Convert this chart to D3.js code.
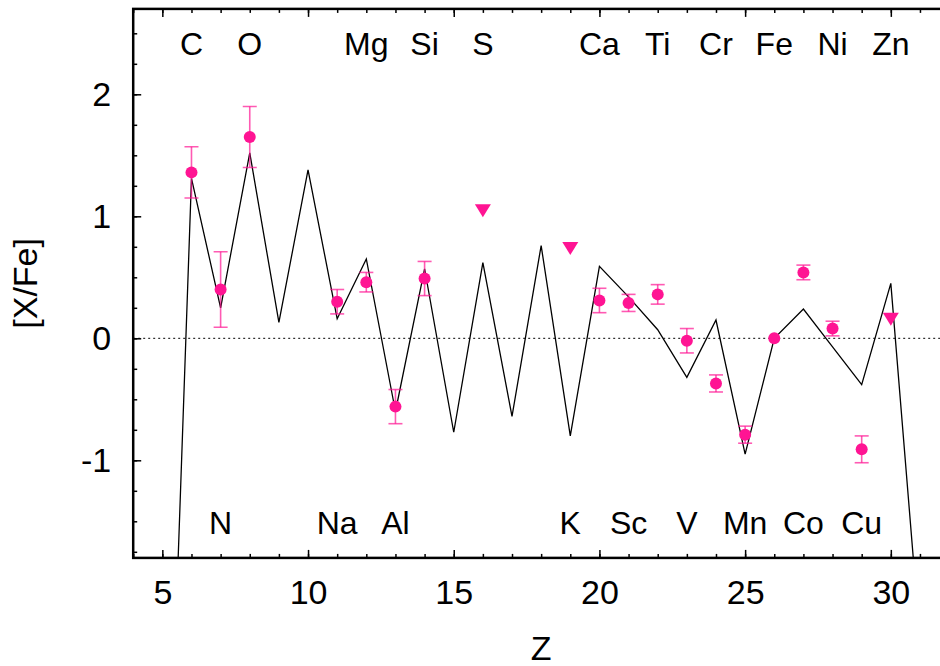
<!DOCTYPE html>
<html>
<head>
  <meta charset="utf-8">
  <script src="https://cdn.jsdelivr.net/npm/d3@7"></script>
  <style>
    body { margin: 0; background: #fff; }
    text { font-family: "Liberation Sans", Arial, sans-serif; }
  </style>
</head>
<body>
<script>
  // model line: [X/Fe] for Z = 5..31
  var modelZ = [5, 6, 7, 8, 9, 10, 11, 12, 13, 14, 15, 16, 17, 18, 19, 20, 21, 22, 23, 24, 25, 26, 27, 28, 29, 30, 31];
  var modelVal = [-5.5, 1.31, 0.25, 1.52, 0.13, 1.38, 0.16, 0.65, -0.60, 0.57, -0.77, 0.62, -0.64, 0.76, -0.80,
                  0.59, 0.34, 0.07, -0.32, 0.15, -0.95, 0.0, 0.24, -0.07, -0.38, 0.45, -2.47];

  // observed abundances with error bars
  var obsZ = [6, 7, 8, 11, 12, 13, 14, 20, 21, 22, 23, 24, 25, 26, 27, 28, 29];
  var obsVal = [1.36, 0.40, 1.65, 0.30, 0.46, -0.56, 0.49, 0.31, 0.29, 0.36, -0.02, -0.37, -0.79, 0.0, 0.54, 0.08, -0.91];
  var obsErr = [0.21, 0.31, 0.25, 0.10, 0.08, 0.14, 0.14, 0.10, 0.07, 0.08, 0.10, 0.07, 0.07, 0, 0.06, 0.06, 0.11];

  // upper limits (S, K, Zn)
  var limZ = [16, 19, 30];
  var limVal = [1.05, 0.74, 0.16];

  // element names
  var topElem = ["C", "O", "Mg", "Si", "S", "Ca", "Ti", "Cr", "Fe", "Ni", "Zn"];
  var topZ = [6, 8, 12, 14, 16, 20, 22, 24, 26, 28, 30];
  var botElem = ["N", "Na", "Al", "K", "Sc", "V", "Mn", "Co", "Cu"];
  var botZ = [7, 11, 13, 19, 21, 23, 25, 27, 29];

  var xTicks = [5, 10, 15, 20, 25, 30];
  var yTicks = [-1, 0, 1, 2];

  var W = 940, H = 666;
  var x = d3.scaleLinear().domain([4, 32]).range([133.2, 949.1]);
  var y = d3.scaleLinear().domain([-1.8, 2.7]).range([557.9, 8.9]);
  var pink = "#ff1493";
  var plain = function(d) { return String(d); };  // hyphen minus, like the original

  var svg = d3.select("body").append("svg")
    .attr("width", W).attr("height", H);

  svg.append("clipPath").attr("id", "plot")
    .append("rect").attr("x", 133.2).attr("y", 8.9)
    .attr("width", 949.1 - 133.2).attr("height", 557.9 - 8.9);

  // minor ticks first, then major ones with labels
  var minorX = d3.range(4, 33, 1), minorY = d3.range(-1.75, 2.7, 0.25);
  svg.append("g").attr("transform", "translate(0,557.9)")
    .call(d3.axisBottom(x).tickValues(minorX).tickSize(-4).tickFormat(""));
  svg.append("g").attr("transform", "translate(0,8.9)")
    .call(d3.axisTop(x).tickValues(minorX).tickSize(-4).tickFormat(""));
  svg.append("g").attr("transform", "translate(133.2,0)")
    .call(d3.axisLeft(y).tickValues(minorY).tickSize(-4).tickFormat(""));

  var xAx = svg.append("g").attr("transform", "translate(0,557.9)")
    .call(d3.axisBottom(x).tickValues(xTicks).tickSize(-8).tickPadding(22).tickFormat(plain));
  svg.append("g").attr("transform", "translate(0,8.9)")
    .call(d3.axisTop(x).tickValues(xTicks).tickSize(-8).tickFormat(""));
  var yAx = svg.append("g").attr("transform", "translate(133.2,0)")
    .call(d3.axisLeft(y).tickValues(yTicks).tickSize(-8).tickPadding(22).tickFormat(plain));

  svg.selectAll(".domain").remove();
  svg.selectAll(".tick line").attr("stroke", "#000").attr("stroke-width", 1.5);
  [xAx, yAx].forEach(function(a) {
    a.selectAll("text").attr("fill", "#000").style("font-size", "34px")
      .style("font-family", "'Liberation Sans', Arial, sans-serif");
  });
  xAx.selectAll("text").attr("dy", "0.71em");

  // frame
  svg.append("rect").attr("x", 133.2).attr("y", 8.9)
    .attr("width", 949.1 - 133.2).attr("height", 557.9 - 8.9)
    .attr("fill", "none").attr("stroke", "#000").attr("stroke-width", 2.5);

  var plot = svg.append("g").attr("clip-path", "url(#plot)");

  // zero line
  plot.append("line")
    .attr("x1", x(4)).attr("x2", x(32)).attr("y1", y(0)).attr("y2", y(0))
    .attr("stroke", "#000").attr("stroke-width", 1).attr("stroke-dasharray", "2,3");

  // model
  var line = d3.line().x(function(d, i) { return x(modelZ[i]); }).y(function(d) { return y(d); });
  plot.append("path").datum(modelVal).attr("d", line)
    .attr("fill", "none").attr("stroke", "#000").attr("stroke-width", 1.3);

  // error bars
  var eb = plot.append("g").attr("stroke", pink).attr("stroke-opacity", 0.7).attr("stroke-width", 1.6);
  obsZ.forEach(function(z, i) {
    if (!obsErr[i]) return;
    var cx = x(z), lo = y(obsVal[i] - obsErr[i]), hi = y(obsVal[i] + obsErr[i]);
    eb.append("line").attr("x1", cx).attr("x2", cx).attr("y1", lo).attr("y2", hi);
    eb.append("line").attr("x1", cx - 7).attr("x2", cx + 7).attr("y1", lo).attr("y2", lo);
    eb.append("line").attr("x1", cx - 7).attr("x2", cx + 7).attr("y1", hi).attr("y2", hi);
  });

  plot.selectAll("circle.obs").data(obsVal).enter().append("circle")
    .attr("cx", function(d, i) { return x(obsZ[i]); })
    .attr("cy", function(d) { return y(d); })
    .attr("r", 6).attr("fill", pink);

  plot.selectAll("path.lim").data(limVal).enter().append("path")
    .attr("d", function(d, i) {
      var cx = x(limZ[i]), cy = y(d);
      return "M" + (cx - 8) + "," + (cy - 6) + "L" + (cx + 8) + "," + (cy - 6) + "L" + cx + "," + (cy + 7) + "Z";
    })
    .attr("fill", pink);

  // element labels
  svg.selectAll("text.top").data(topElem).enter().append("text")
    .attr("x", function(d, i) { return x(topZ[i]); }).attr("y", y(2.32))
    .attr("text-anchor", "middle").style("font-size", "32px").text(function(d) { return d; });
  svg.selectAll("text.bot").data(botElem).enter().append("text")
    .attr("x", function(d, i) { return x(botZ[i]); }).attr("y", y(-1.6))
    .attr("text-anchor", "middle").style("font-size", "32px").text(function(d) { return d; });

  // axis titles
  svg.append("text").attr("x", (133.2 + 949.1) / 2).attr("y", 660)
    .attr("text-anchor", "middle").style("font-size", "34px").text("Z");
  svg.append("text").attr("transform", "translate(37," + ((8.9 + 557.9) / 2) + ") rotate(-90)")
    .attr("text-anchor", "middle").style("font-size", "34px").text("[X/Fe]");
</script>
</body>
</html>
